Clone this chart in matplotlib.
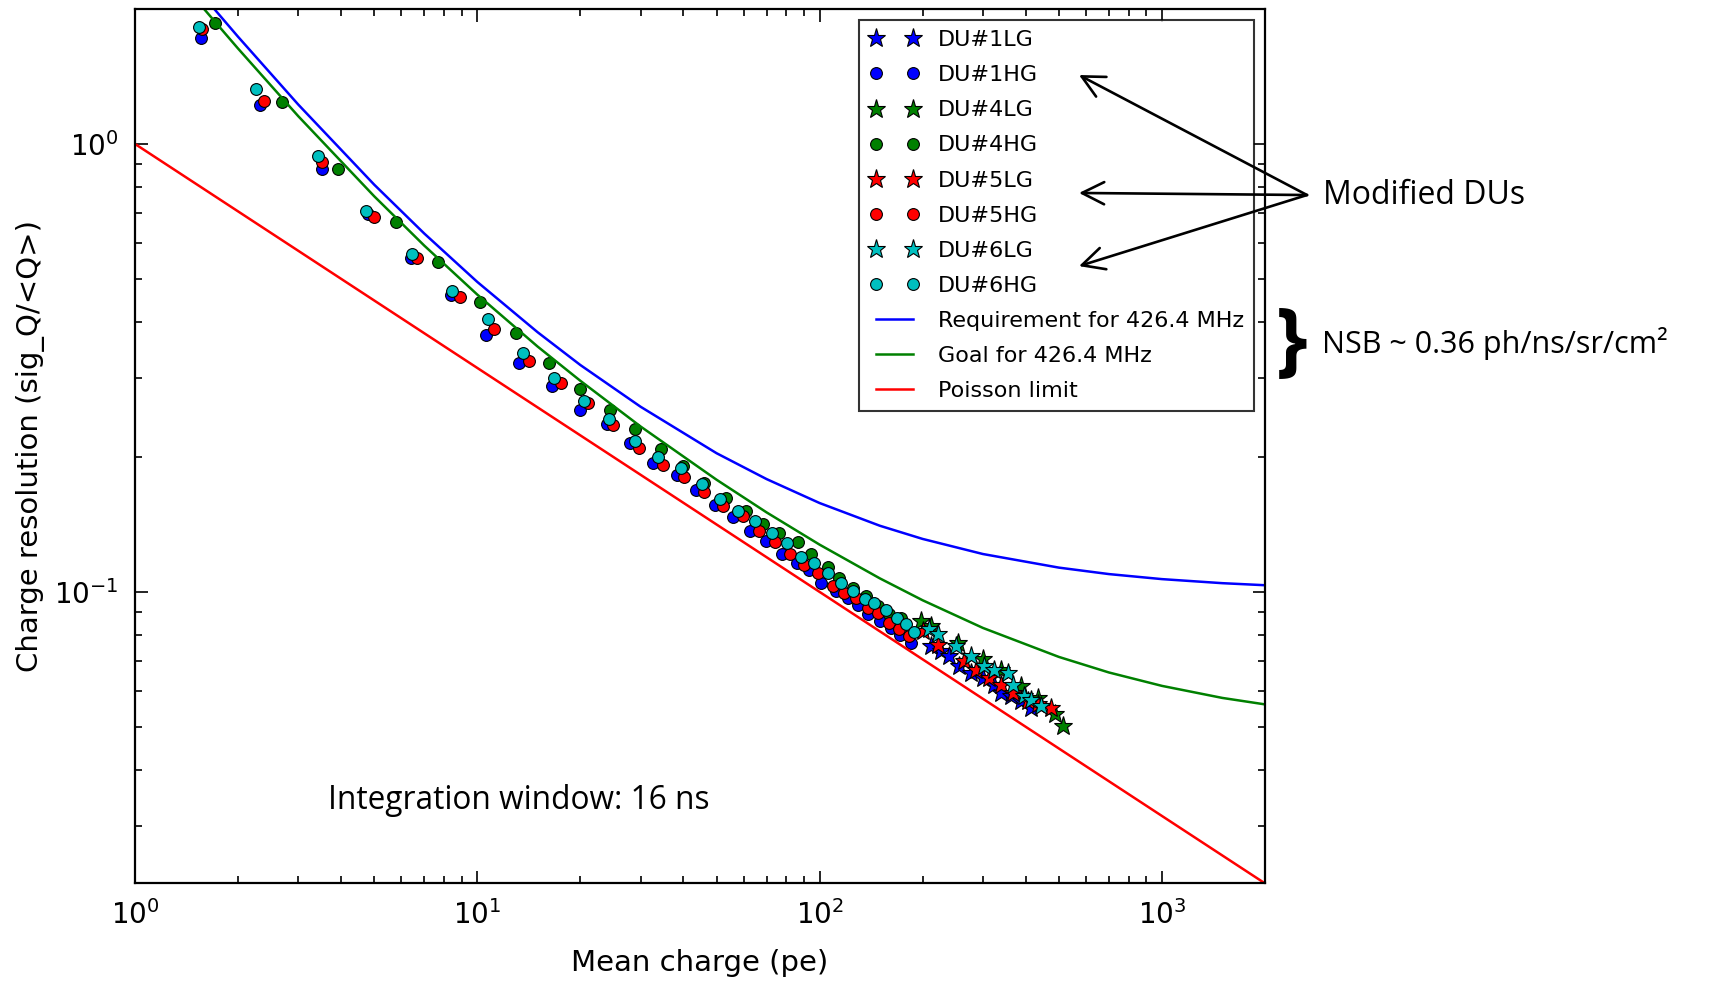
import matplotlib
matplotlib.use("Agg")
import matplotlib.pyplot as plt

# ── Data ──────────────────────────────────────────────────────────────────────
# HG = circles, LG = stars ; x = mean charge (pe), y = sig_Q/<Q>
du1_hg_q = [1.564, 2.315, 3.53, 4.79, 6.39, 8.36, 10.63, 13.24, 16.5, 19.93, 23.9, 27.96,
            32.5, 38.3, 43.5, 49.5, 55.7, 62.7, 69.7, 77.6, 85.9, 93.3, 101, 111.7, 120.8,
            129.5, 138.2, 150.5, 161.8, 171.8, 185]
du1_hg_r = [1.726, 1.219, 0.880, 0.699, 0.557, 0.461, 0.3736, 0.3248, 0.288, 0.2545, 0.2366,
            0.2153, 0.1943, 0.182, 0.1687, 0.156, 0.1466, 0.1367, 0.1299, 0.1217, 0.1158,
            0.1122, 0.1048, 0.1004, 0.097, 0.0933, 0.0891, 0.086, 0.0832, 0.080, 0.077]
du1_lg_q = [211.7, 226.5, 239.4, 256.1, 277.1, 299.9, 324.2, 339.1, 362.7, 388.2, 415]
du1_lg_r = [0.0757, 0.0738, 0.0719, 0.0683, 0.066, 0.0643, 0.0621, 0.0596, 0.0585, 0.057, 0.0551]

du4_hg_q = [1.718, 2.698, 3.906, 5.77, 7.67, 10.16, 12.98, 16.2, 19.97, 24.4, 28.9, 34.4,
            39.8, 45.8, 53.4, 61.1, 68.2, 76.3, 86.3, 94.4, 105.6, 114.2, 125, 136.7, 147.9,
            159.9, 173]
du4_hg_r = [1.858, 1.242, 0.880, 0.669, 0.545, 0.4444, 0.379, 0.3248, 0.2835, 0.2545, 0.2305,
            0.208, 0.1909, 0.1747, 0.1619, 0.1519, 0.1415, 0.1356, 0.1292, 0.1213, 0.1138,
            0.1076, 0.1022, 0.0979, 0.0929, 0.0891, 0.0876]
du4_lg_q = [197.9, 211.7, 253.3, 299.9, 339.1, 388.2, 434.3, 485.8, 513.7]
du4_lg_r = [0.086, 0.0839, 0.077, 0.0707, 0.0671, 0.0616, 0.058, 0.0533, 0.0502]

du5_hg_q = [1.571, 2.39, 3.53, 4.99, 6.68, 8.9, 11.19, 14.17, 17.54, 21.13, 24.94, 29.7, 34.8,
            40.2, 46.0, 52.2, 59.6, 66.6, 74.1, 82.1, 90.2, 98.7, 109.2, 118.1, 127.8, 138.2,
            147.9, 159.9, 171, 182.9]
du5_hg_r = [1.807, 1.246, 0.911, 0.688, 0.556, 0.455, 0.387, 0.3275, 0.2931, 0.2645, 0.2357,
            0.2099, 0.1916, 0.1808, 0.167, 0.1554, 0.148, 0.1365, 0.129, 0.1213, 0.1146,
            0.1104, 0.103, 0.0996, 0.0971, 0.0922, 0.0899, 0.0853, 0.0825, 0.0797]
du5_lg_q = [200.2, 221.4, 265, 286.6, 313.5, 339.1, 366.9, 406, 434.3, 475]
du5_lg_r = [0.0818, 0.0763, 0.0701, 0.0671, 0.0643, 0.0621, 0.0596, 0.057, 0.0561, 0.0551]

du6_hg_q = [1.536, 2.265, 3.415, 4.74, 6.46, 8.46, 10.78, 13.6, 16.76, 20.5, 24.3, 28.9, 33.8,
            39.3, 45.2, 51.2, 57.6, 64.9, 72.6, 80.3, 88.2, 96.5, 105.6, 115.5, 125, 135.3,
            144.5, 156.4, 168.4, 178.9, 189.2]
du6_hg_r = [1.827, 1.328, 0.939, 0.708, 0.567, 0.469, 0.406, 0.342, 0.2997, 0.2667, 0.2435,
            0.2171, 0.2003, 0.1893, 0.1738, 0.1615, 0.1515, 0.1439, 0.1351, 0.1288, 0.1196,
            0.1158, 0.1104, 0.1045, 0.1003, 0.0962, 0.0943, 0.0909, 0.0876, 0.0846, 0.0812]
du6_lg_q = [209.3, 221.4, 250.5, 277.1, 303, 324.2, 354.8, 366.9, 396.7, 415, 444]
du6_lg_r = [0.0825, 0.0804, 0.0757, 0.0719, 0.0683, 0.0671, 0.066, 0.0621, 0.0585, 0.0575, 0.0556]

curve_q = [1.5, 2, 3, 5, 7, 10, 15, 20, 30, 50, 70, 100, 150, 200, 300, 500, 700, 1000, 1500, 2000]
req_r = [2.243, 1.735, 1.224, 0.811, 0.631, 0.492, 0.380, 0.321, 0.259, 0.204, 0.1786, 0.1579,
         0.1405, 0.1313, 0.1215, 0.1133, 0.1096, 0.1068, 0.1046, 0.1035]
goal_r = [2.109, 1.633, 1.153, 0.764, 0.593, 0.461, 0.353, 0.296, 0.234, 0.178, 0.1505, 0.1275,
          0.1072, 0.0958, 0.0831, 0.0716, 0.0661, 0.0617, 0.0580, 0.0561]
poisson_q = [1, 10, 100, 1000, 2000]
poisson_r = [1.0, 0.3162, 0.1, 0.03162, 0.02236]

# ── Style ─────────────────────────────────────────────────────────────────────
BLUE, GREEN, RED, CYAN = "#0000ff", "#008000", "#ff0000", "#00bfbf"
NOTE_FONT = ["Open Sans", "DejaVu Sans"]

series = [
    ("DU#1", BLUE, du1_lg_q, du1_lg_r, du1_hg_q, du1_hg_r),
    ("DU#4", GREEN, du4_lg_q, du4_lg_r, du4_hg_q, du4_hg_r),
    ("DU#5", RED, du5_lg_q, du5_lg_r, du5_hg_q, du5_hg_r),
    ("DU#6", CYAN, du6_lg_q, du6_lg_r, du6_hg_q, du6_hg_r),
]

fig = plt.figure(figsize=(17.3, 9.82), dpi=100)
ax = fig.add_axes([0.078, 0.1008, 0.6532, 0.890])

for name, col, lq, lr, hq, hr in series:
    ax.plot(lq, lr, ls="none", marker="*", ms=14, mfc=col, mec="k", mew=0.8, label=name + "LG")
    ax.plot(hq, hr, ls="none", marker="o", ms=8.5, mfc=col, mec="k", mew=0.8, label=name + "HG")

ax.plot(curve_q, req_r, color=BLUE, lw=1.8, label="Requirement for 426.4 MHz")
ax.plot(curve_q, goal_r, color=GREEN, lw=1.8, label="Goal for 426.4 MHz")
ax.plot(poisson_q, poisson_r, color=RED, lw=1.8, label="Poisson limit")

ax.set_xscale("log")
ax.set_yscale("log")
ax.set_xlim(1, 2000)
ax.set_ylim(0.0224, 2.0)
ax.tick_params(which="both", direction="in", top=True, right=True, labelsize=20, width=1.2)
ax.tick_params(which="major", length=9, pad=12)
ax.tick_params(which="minor", length=5)
for s in ax.spines.values():
    s.set_linewidth(1.6)

ax.set_xlabel("Mean charge (pe)", fontsize=21, labelpad=14)
ax.set_ylabel("Charge resolution (sig_Q/<Q>)", fontsize=21, labelpad=6)

leg = ax.legend(loc="upper right", numpoints=2, fontsize=16, labelspacing=0.68,
                handlelength=2.3, handletextpad=0.8, borderpad=0.45, fancybox=False)
leg.get_frame().set_edgecolor("k")
leg.get_frame().set_linewidth(1.5)

# ── Annotations ───────────────────────────────────────────────────────────────
ax.text(0.1896, 0.1853, "Integration window: 16 ns", transform=fig.transFigure,
        fontsize=22.8, va="center", ha="left", family=NOTE_FONT)

tail = (0.7555, 0.8014)
for head_y in (0.9236, 0.8035, 0.729):
    fig.add_artist(matplotlib.patches.FancyArrowPatch(
        tail, (0.6237, head_y), transform=fig.transFigure,
        arrowstyle="->,head_length=16,head_width=8",
        color="k", lw=1.9, shrinkA=0, shrinkB=0))
fig.text(0.7647, 0.8014, "Modified DUs", fontsize=23, va="center", ha="left", family=NOTE_FONT)
fig.text(0.7465, 0.6487, "}", fontsize=58, va="center", ha="center", family=NOTE_FONT,
         fontweight="bold")
fig.text(0.764, 0.6507, "NSB ~ 0.36 ph/ns/sr/cm²", fontsize=22, va="center", ha="left",
         family=NOTE_FONT)

fig.savefig("out.png", dpi=100)
